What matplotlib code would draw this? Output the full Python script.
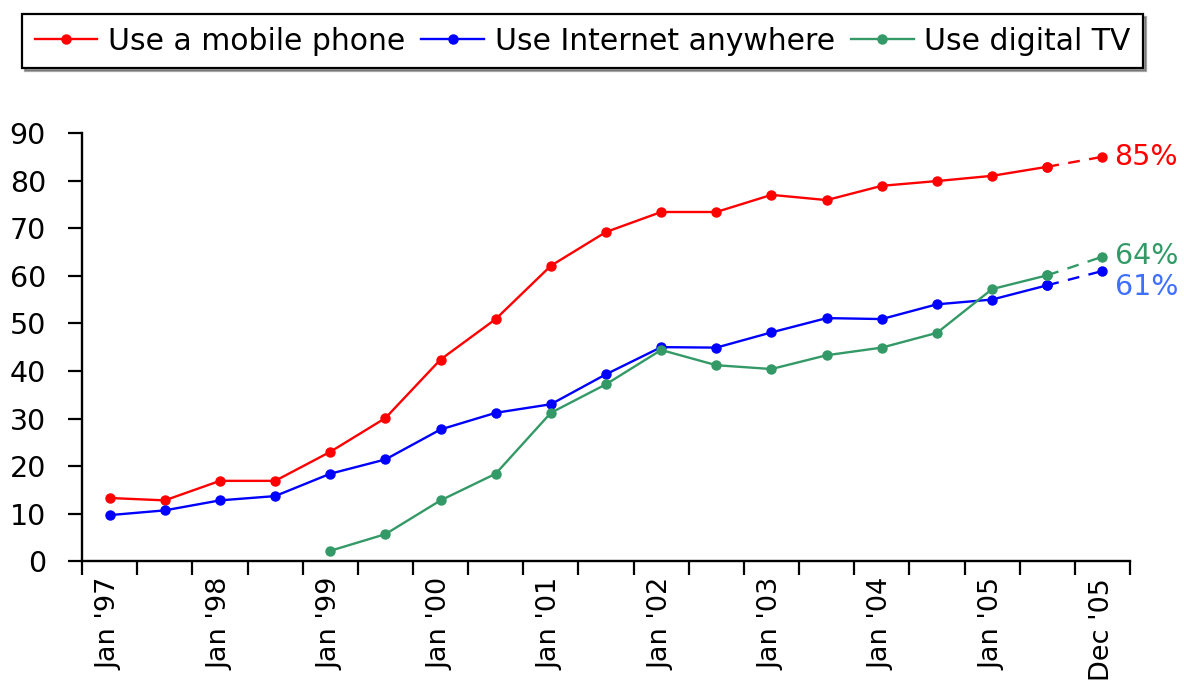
import numpy as np
import matplotlib
matplotlib.use("Agg")
import matplotlib.pyplot as plt

plt.rcParams['font.family'] = ['DejaVu Sans']

labels = ["Jan '97", "", "Jan '98", "", "Jan '99", "", "Jan '00", "", "Jan '01", "",
          "Jan '02", "", "Jan '03", "", "Jan '04", "", "Jan '05", "", "Dec '05"]

mobile = [13.3, 12.8, 16.9, 16.9, 23, 30.1, 42.4, 50.9, 62.1, 69.2,
          73.4, 73.4, 77, 75.9, 78.9, 79.9, 81, 82.9, 85]
internet = [9.7, 10.7, 12.8, 13.7, 18.4, 21.4, 27.7, 31.2, 33, 39.3,
            45, 44.9, 48.1, 51.1, 50.9, 54, 55, 58, 61]
digital_tv = [None, None, None, None, 2.2, 5.7, 12.8, 18.4, 31.2, 37.2,
              44.4, 41.2, 40.4, 43.3, 44.9, 48, 57.2, 60.1, 64]

series = [
    ("Use a mobile phone", mobile, "#ff0000", "85%", "#ff0000"),
    ("Use Internet anywhere", internet, "#0000ff", "61%", "#3f6fff"),
    ("Use digital TV", digital_tv, "#339966", "64%", "#339966"),
]

fig = plt.figure(figsize=(11.84, 6.82), dpi=100)
ax = fig.add_axes([0.0693, 0.177, 0.8851, 0.628])

x = np.arange(len(labels))
for name, vals, col, lab, labcol in series:
    y = np.array([np.nan if v is None else v for v in vals], dtype=float)
    ax.plot(x[:-1], y[:-1], color=col, lw=1.7, marker='o', ms=6.5, label=name)
    ax.plot(x[-2:], y[-2:], color=col, lw=1.7, ls=(0, (5, 4)), marker='o', ms=6.5)
    dy = {"85%": 0, "64%": 0.2, "61%": -3.4}[lab]
    ax.text(x[-1] + 0.22, y[-1] + dy, lab, color=labcol, fontsize=20.5,
            va='center', ha='left', clip_on=False)

ax.set_xlim(-0.5, len(labels) - 0.5)
ax.set_ylim(0, 90)
ax.set_yticks(range(0, 91, 10))
ax.set_xticks(x)
ax.set_xticklabels(labels, rotation=90, fontsize=19.5)
ax.set_xticks(np.arange(-0.5, len(labels)), minor=True)
ax.tick_params(axis='x', which='major', length=0, pad=12)
ax.tick_params(axis='x', which='minor', length=10, width=1.6, direction='out')
ax.tick_params(axis='y', labelsize=20.5, length=10, width=1.6, pad=16)

for s in ['top', 'right']:
    ax.spines[s].set_visible(False)
for s in ['left', 'bottom']:
    ax.spines[s].set_linewidth(1.7)

leg = fig.legend(loc='upper left', bbox_to_anchor=(22 / 1184, 1 - 14 / 682),
                 ncol=3, fontsize=21.5, frameon=True, fancybox=False,
                 shadow=True, edgecolor='black', handlelength=2.1,
                 handletextpad=0.35, columnspacing=0.55, borderpad=0.42,
                 borderaxespad=0)
leg.get_frame().set_linewidth(1.6)

fig.savefig("out.png", dpi=100)
